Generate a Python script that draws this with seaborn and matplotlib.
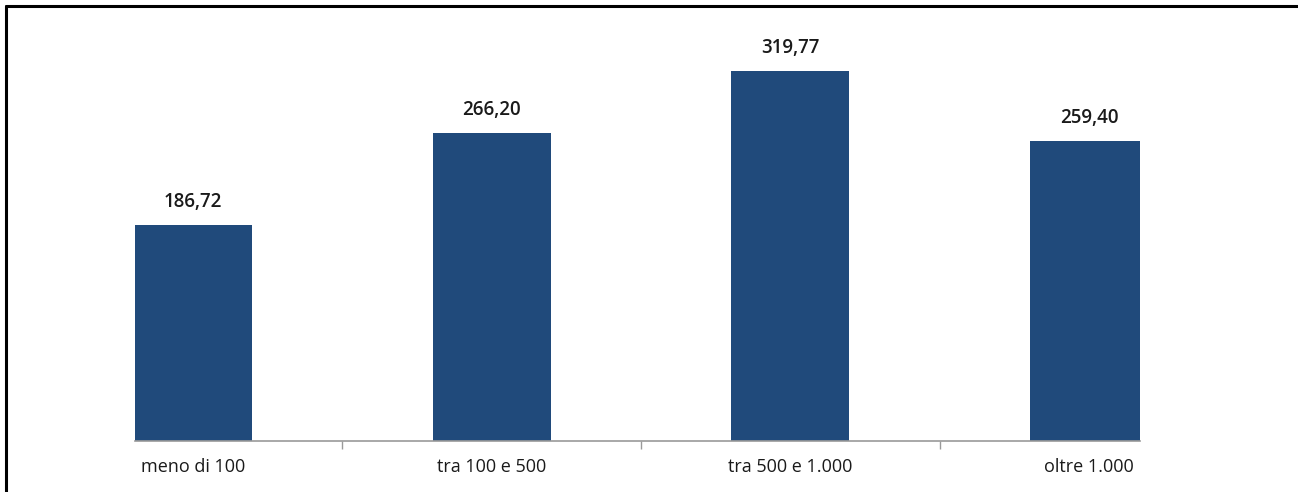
import matplotlib.pyplot as plt
import seaborn as sns
import pandas as pd
from matplotlib.lines import Line2D

# Dati del grafico
categorie = ["meno di 100", "tra 100 e 500", "tra 500 e 1.000", "oltre 1.000"]
valori = [186.72, 266.20, 319.77, 259.40]
etichette = ["186,72", "266,20", "319,77", "259,40"]

df = pd.DataFrame({"Categoria": categorie, "Valore": valori})

sns.set_style("white")
plt.rcParams['font.family'] = ['Open Sans', 'DejaVu Sans']

fig = plt.figure(figsize=(12.98, 4.92), dpi=100)
ax = fig.add_axes([135 / 1298, 51 / 492, 1005 / 1298, 405 / 492])

sns.barplot(data=df, x="Categoria", y="Valore", color="#204A7B",
            width=0.395, saturation=1, linewidth=0, ax=ax)

ax.set_xlim(-0.194, 3.17)
ax.set_ylim(0, 350)

# etichette sopra le barre
for i, (v, t) in enumerate(zip(valori, etichette)):
    ax.annotate(t, (i, v), xytext=(0, 9), textcoords="offset points",
                ha="center", va="bottom", fontsize=13.5, fontweight="semibold",
                color="#1a1a1a")

# assi
for s in ["top", "right", "left"]:
    ax.spines[s].set_visible(False)
ax.spines["bottom"].set_color("#9a9a9a")
ax.spines["bottom"].set_linewidth(1.2)
ax.set_yticks([])
ax.set_xlabel("")
ax.set_ylabel("")
ax.tick_params(axis="x", which="major", length=0, pad=12, labelsize=13,
               labelcolor="#1a1a1a")
ax.set_xticks([0.5, 1.5, 2.5], minor=True)
ax.tick_params(axis="x", which="minor", bottom=True, length=6, width=1,
               color="#9a9a9a")

# cornice
fig.add_artist(Line2D([6 / 1298, 1.0], [1 - 6 / 492, 1 - 6 / 492],
                      color="black", lw=2.2, transform=fig.transFigure))
fig.add_artist(Line2D([6 / 1298, 6 / 1298], [0, 1 - 6 / 492],
                      color="black", lw=2.2, transform=fig.transFigure))

fig.savefig("out.png", dpi=100)
